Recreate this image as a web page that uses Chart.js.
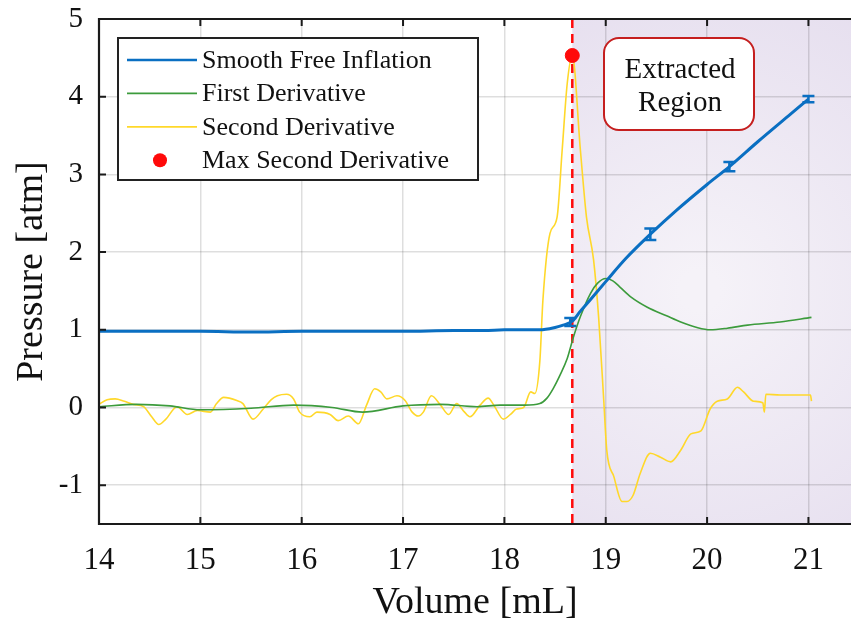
<!DOCTYPE html>
<html>
<head>
<meta charset="utf-8">
<script src="https://cdn.jsdelivr.net/npm/chart.js@4.4.0/dist/chart.umd.min.js"></script>
<style>
  html, body { margin: 0; padding: 0; background: #fff; }
  #wrap { width: 851px; height: 622px; position: relative; }
</style>
</head>
<body>
<div id="wrap"><canvas id="myChart"></canvas></div>
<script>
  // smooth free inflation (pressure vs volume)
  const inflVol  = [14, 14.5, 15, 15.5, 16, 16.5, 17, 17.5, 17.8, 18.0, 18.2, 18.35, 18.5, 18.58, 18.67, 18.75, 18.85, 19.0, 19.2, 19.44, 19.7, 20.0, 20.22, 20.5, 20.8, 21.0];
  const inflPres = [0.98, 0.98, 0.98, 0.97, 0.98, 0.98, 0.98, 0.99, 0.99, 1.0, 1.0, 1.0, 1.03, 1.06, 1.11, 1.24, 1.39, 1.62, 1.92, 2.23, 2.54, 2.87, 3.10, 3.42, 3.75, 3.97];

  // first derivative
  const d1Vol = [14.0, 14.37, 14.7, 15.0, 15.5, 15.92, 16.3, 16.6, 17.0, 17.37, 17.73, 17.96, 18.2, 18.35, 18.42, 18.48, 18.55, 18.62, 18.68, 18.75, 18.85, 18.92, 19.0, 19.07, 19.14, 19.25, 19.41, 19.6, 19.74, 19.9, 20.03, 20.2, 20.4, 20.72, 21.03];
  const d1Val = [0.01, 0.04, 0.02, -0.03, -0.01, 0.03, 0.0, -0.06, 0.02, 0.04, 0.01, 0.03, 0.03, 0.05, 0.12, 0.24, 0.42, 0.63, 0.9, 1.17, 1.47, 1.6, 1.66, 1.63, 1.55, 1.42, 1.29, 1.18, 1.1, 1.03, 1.0, 1.02, 1.06, 1.1, 1.16];

  // second derivative
  const d2Vol = [14.0, 14.08, 14.16, 14.25, 14.34, 14.44, 14.52, 14.59, 14.66, 14.77, 14.87, 14.97, 15.1, 15.16, 15.23, 15.36, 15.42, 15.52, 15.62, 15.7, 15.76, 15.85, 15.92, 15.98, 16.08, 16.15, 16.28, 16.36, 16.46, 16.56, 16.64, 16.72, 16.78, 16.84, 16.94, 17.02, 17.09, 17.15, 17.2, 17.28, 17.37, 17.45, 17.53, 17.6, 17.66, 17.76, 17.84, 17.9, 17.99, 18.06, 18.12, 18.19, 18.26, 18.3, 18.35, 18.38, 18.45, 18.52, 18.57, 18.62, 18.67, 18.75, 18.81, 18.88, 18.93, 18.98, 19.01, 19.08, 19.16, 19.21, 19.27, 19.34, 19.44, 19.54, 19.64, 19.74, 19.84, 19.94, 20.03, 20.1, 20.2, 20.3, 20.36, 20.46, 20.55, 20.565, 20.58, 20.72, 21.02, 21.03];
  const d2Val = [0.04, 0.1, 0.11, 0.08, 0.04, 0.01, -0.12, -0.22, -0.15, 0.01, -0.09, -0.04, -0.06, 0.05, 0.13, 0.09, 0.05, -0.15, -0.02, 0.1, 0.15, 0.17, 0.11, -0.06, -0.12, -0.06, -0.09, -0.17, -0.11, -0.21, 0.03, 0.24, 0.2, 0.11, 0.15, 0.09, -0.06, -0.11, -0.06, 0.15, 0.03, -0.09, 0.05, -0.05, -0.12, 0.03, 0.12, 0.02, -0.15, -0.09, -0.02, 0.0, 0.2, 0.18, 0.6, 1.38, 2.24, 2.45, 3.31, 4.17, 4.53, 3.31, 2.45, 1.9, 1.16, 0.1, -0.55, -0.89, -1.21, -1.21, -1.13, -0.85, -0.59, -0.64, -0.7, -0.55, -0.34, -0.3, -0.02, 0.08, 0.11, 0.26, 0.2, 0.08, 0.06, -0.06, 0.17, 0.16, 0.16, 0.08];

  // max second derivative marker
  const peakVol = [18.67];
  const peakVal = [4.53];

  // error bars on the inflation curve
  const errVol  = [18.65, 19.44, 20.22, 21.0];
  const errMean = [1.10, 2.23, 3.10, 3.97];
  const errDev  = [0.05, 0.075, 0.06, 0.04];

  const xTicks = [14, 15, 16, 17, 18, 19, 20, 21];
  const yTicks = [-1, 0, 1, 2, 3, 4, 5];

  const serif = "'Liberation Serif', 'Times New Roman', serif";
  const blue = '#0a6fc2', green = '#3c9b3c', yellow = '#ffd82a', red = '#ff0a0a';

  function pts(xs, ys) {
    return xs.map(function(x, i){ return { x: x, y: ys[i] }; });
  }

  /* shaded extracted region + box outline, ticks etc */
  const decor = {
    id: 'decor',
    beforeDraw(chart) {
      const ctx = chart.ctx, a = chart.chartArea, xs = chart.scales.x;
      const x0 = xs.getPixelForValue(peakVol[0]);
      ctx.save();
      const g = ctx.createRadialGradient(700, 290, 20, 700, 290, 380);
      g.addColorStop(0, '#f5f2f8');
      g.addColorStop(1, '#e3dbed');
      ctx.fillStyle = g;
      ctx.fillRect(x0, a.top, a.right - x0, a.bottom - a.top);
      ctx.restore();
    },
    beforeDatasetsDraw(chart) {
      const ctx = chart.ctx, a = chart.chartArea, xs = chart.scales.x;
      const x0 = xs.getPixelForValue(peakVol[0]);
      ctx.save();
      ctx.strokeStyle = red;
      ctx.lineWidth = 2.5;
      ctx.setLineDash([9, 6]);
      ctx.beginPath();
      ctx.moveTo(x0, a.top);
      ctx.lineTo(x0, a.bottom);
      ctx.stroke();
      ctx.restore();
    },
    afterDatasetsDraw(chart) {
      const ctx = chart.ctx, xs = chart.scales.x, ys = chart.scales.y;
      ctx.save();
      ctx.strokeStyle = blue;
      ctx.lineWidth = 2.5;
      errVol.forEach(function(v, i){
        const px = xs.getPixelForValue(v);
        const top = ys.getPixelForValue(errMean[i] + errDev[i]);
        const bot = ys.getPixelForValue(errMean[i] - errDev[i]);
        ctx.beginPath();
        ctx.moveTo(px, top); ctx.lineTo(px, bot);
        ctx.moveTo(px - 6, top); ctx.lineTo(px + 6, top);
        ctx.moveTo(px - 6, bot); ctx.lineTo(px + 6, bot);
        ctx.stroke();
      });
      ctx.restore();
    },
    afterDraw(chart) {
      const ctx = chart.ctx, a = chart.chartArea, xs = chart.scales.x, ys = chart.scales.y;
      ctx.save();
      // axes box (left, bottom, top)
      ctx.strokeStyle = '#1a1a1a';
      ctx.lineWidth = 2.2;
      ctx.beginPath();
      ctx.moveTo(a.right, a.top); ctx.lineTo(a.left, a.top);
      ctx.lineTo(a.left, a.bottom); ctx.lineTo(a.right, a.bottom);
      ctx.stroke();
      // inward ticks
      ctx.lineWidth = 2;
      ctx.beginPath();
      xTicks.forEach(function(v){
        const px = xs.getPixelForValue(v);
        ctx.moveTo(px, a.bottom); ctx.lineTo(px, a.bottom - 7);
        ctx.moveTo(px, a.top); ctx.lineTo(px, a.top + 7);
      });
      yTicks.forEach(function(v){
        const py = ys.getPixelForValue(v);
        ctx.moveTo(a.left, py); ctx.lineTo(a.left + 7, py);
      });
      ctx.stroke();

      // legend
      const lx = 118, ly = 38, lw = 360, lh = 142;
      ctx.fillStyle = '#fff';
      ctx.fillRect(lx, ly, lw, lh);
      ctx.strokeStyle = '#222';
      ctx.lineWidth = 2;
      ctx.strokeRect(lx, ly, lw, lh);
      ctx.font = '26px ' + serif;
      ctx.textBaseline = 'middle';
      ctx.textAlign = 'left';
      chart.data.datasets.forEach(function(ds, i){
        const ry = 60 + i * 33.4;
        if (ds.showLine === false) {
          ctx.fillStyle = ds.backgroundColor;
          ctx.beginPath();
          ctx.arc(160, ry, 7, 0, Math.PI * 2);
          ctx.fill();
        } else {
          ctx.strokeStyle = ds.borderColor;
          ctx.lineWidth = i === 0 ? 2.5 : 1.8;
          ctx.beginPath();
          ctx.moveTo(127, ry); ctx.lineTo(197, ry);
          ctx.stroke();
        }
        ctx.fillStyle = '#111';
        ctx.fillText(ds.label, 202, ry + 1);
      });

      // "Extracted Region" note
      ctx.beginPath();
      ctx.roundRect(604, 38, 150, 92, 15);
      ctx.fillStyle = '#fff';
      ctx.fill();
      ctx.strokeStyle = '#c51f1f';
      ctx.lineWidth = 2;
      ctx.stroke();
      ctx.fillStyle = '#111';
      ctx.textAlign = 'center';
      ctx.font = '29px ' + serif;
      ctx.fillText('Extracted', 680, 70);
      ctx.fillText('Region', 680, 103);
      ctx.restore();
    }
  };

  const data = {
    datasets: [
      {
        label: 'Smooth Free Inflation',
        data: pts(inflVol, inflPres),
        borderColor: blue,
        backgroundColor: blue,
        borderWidth: 3,
        pointRadius: 0,
        showLine: true,
        cubicInterpolationMode: 'monotone'
      },
      {
        label: 'First Derivative',
        data: pts(d1Vol, d1Val),
        borderColor: green,
        backgroundColor: green,
        borderWidth: 1.6,
        pointRadius: 0,
        showLine: true,
        cubicInterpolationMode: 'monotone'
      },
      {
        label: 'Second Derivative',
        data: pts(d2Vol, d2Val),
        borderColor: yellow,
        backgroundColor: yellow,
        borderWidth: 1.6,
        pointRadius: 0,
        showLine: true,
        cubicInterpolationMode: 'monotone'
      },
      {
        label: 'Max Second Derivative',
        data: pts(peakVol, peakVal),
        backgroundColor: red,
        borderColor: red,
        pointRadius: 7,
        showLine: false,
        order: -1
      }
    ]
  };

  const config = {
    type: 'scatter',
    data: data,
    plugins: [decor],
    options: {
      responsive: true,
      maintainAspectRatio: false,
      animation: false,
      layout: { autoPadding: false, padding: { top: 19, right: 0, left: 0, bottom: 0 } },
      plugins: {
        legend: { display: false },
        tooltip: { enabled: false }
      },
      scales: {
        x: {
          type: 'linear',
          min: 14,
          max: 21.42,
          afterBuildTicks: function(s){ s.ticks = xTicks.map(function(v){ return { value: v }; }); },
          afterFit: function(s){ s.height = 98; s.paddingLeft = 0; s.paddingRight = 0; },
          grid: { color: 'rgba(0,0,0,0.13)', lineWidth: 1.5, drawTicks: false },
          border: { display: false },
          ticks: {
            padding: 18,
            color: '#111',
            font: { family: serif, size: 31 },
            maxRotation: 0
          },
          title: {
            display: true,
            text: 'Volume [mL]',
            color: '#111',
            font: { family: serif, size: 38, lineHeight: 1 },
            padding: { top: 0, bottom: 0 }
          }
        },
        y: {
          type: 'linear',
          min: -1.5,
          max: 5,
          afterBuildTicks: function(s){ s.ticks = yTicks.map(function(v){ return { value: v }; }); },
          afterFit: function(s){ s.width = 99; s.paddingTop = 0; s.paddingBottom = 0; },
          grid: { color: 'rgba(0,0,0,0.13)', lineWidth: 1.5, drawTicks: false },
          border: { display: false },
          ticks: {
            padding: 16,
            color: '#111',
            font: { family: serif, size: 29 }
          },
          title: {
            display: true,
            text: 'Pressure [atm]',
            color: '#111',
            font: { family: serif, size: 38, lineHeight: 1 },
            padding: { top: 13, bottom: 0 }
          }
        }
      }
    }
  };

  const myChart = new Chart(document.getElementById('myChart'), config);
</script>
</body>
</html>
